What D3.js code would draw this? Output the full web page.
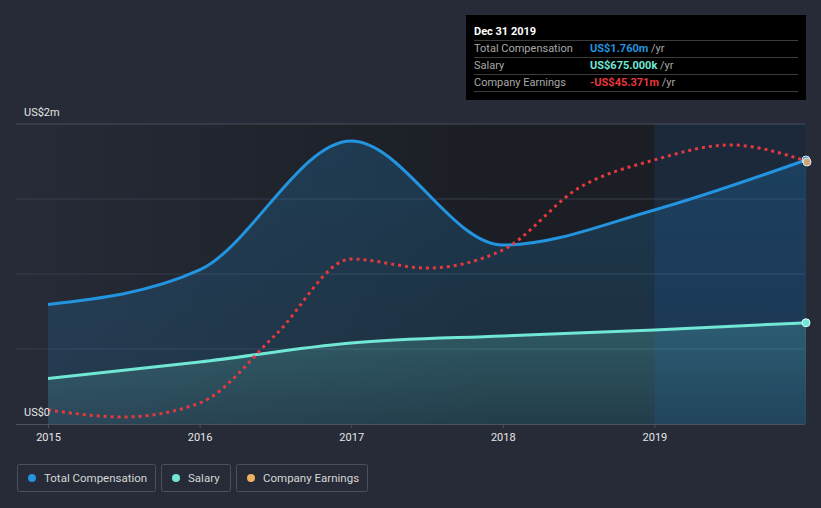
<!DOCTYPE html>
<html><head><meta charset="utf-8">
<script src="https://cdn.jsdelivr.net/npm/d3@7"></script>
<style>
html,body{margin:0;padding:0;background:#262b37;}
svg{display:block;font-family:Roboto,"Open Sans",sans-serif;}
</style></head><body>
<svg id="c" width="821" height="508"></svg>
<script>
// ---- data ----
const compYears = [2015.0, 2016.0, 2017.0, 2018.0, 2019.0, 2020.0];
const totalComp = [0.797, 1.027, 1.887, 1.193, 1.427, 1.760]; // US$m
const salary = [0.303, 0.413, 0.540, 0.587, 0.627, 0.675];    // US$m
const earnYears = [2015.0, 2015.5, 2016.0, 2016.5, 2017.0, 2017.5, 2018.0, 2018.5, 2019.0, 2019.5, 2020.0];
const earnings = [-229.6, -234.8, -224.5, -174.1, -117.9, -124.6, -111.2, -65.4, -44.6, -33.5, -45.371]; // US$m
const xTicks = [2015, 2016, 2017, 2018, 2019];
const yTickLabels = [{v:0, t:"US$0"}, {v:2, t:"US$2m"}];
const legendItems = [
  {name:"Total Compensation", color:"#2394df"},
  {name:"Salary", color:"#71e7d6"},
  {name:"Company Earnings", color:"#e9b35f"}
];
const tooltipTitle = "Dec 31 2019";
const tooltipRows = [
  {label:"Total Compensation", value:"US$1.760m", color:"#2394df"},
  {label:"Salary", value:"US$675.000k", color:"#71e7d6"},
  {label:"Company Earnings", value:"-US$45.371m", color:"#e8383d"}
];

// ---- layout ----
const svg = d3.select("#c");
const plotL = 16, plotR = 805, plotT = 124, plotB = 424;
const x = d3.scaleLinear().domain([2015, 2020]).range([48, 806]);
const y = d3.scaleLinear().domain([0, 2]).range([plotB, plotT]);
const yE = d3.scaleLinear().domain([-240, -18]).range([plotB, plotT]);

const defs = svg.append("defs");
const bgGrad = defs.append("linearGradient").attr("id","bgGrad").attr("x1","0").attr("x2","1").attr("y1","0").attr("y2","0");
bgGrad.append("stop").attr("offset","0").attr("stop-color","#262b37");
bgGrad.append("stop").attr("offset","0.6").attr("stop-color","#1b1e24");
bgGrad.append("stop").attr("offset","1").attr("stop-color","#1b1e24");
const tcGrad = defs.append("linearGradient").attr("id","tcGrad").attr("x1","0").attr("x2","0").attr("y1","0").attr("y2","1");
tcGrad.append("stop").attr("offset","0").attr("stop-color","#2394df").attr("stop-opacity",0.22);
tcGrad.append("stop").attr("offset","1").attr("stop-color","#2394df").attr("stop-opacity",0.14);
const salGrad = defs.append("linearGradient").attr("id","salGrad").attr("x1","0").attr("x2","0").attr("y1","0").attr("y2","1");
salGrad.append("stop").attr("offset","0").attr("stop-color","#71e7d6").attr("stop-opacity",0.22);
salGrad.append("stop").attr("offset","1").attr("stop-color","#71e7d6").attr("stop-opacity",0.08);

// plot background
svg.append("rect").attr("x",plotL).attr("y",plotT).attr("width",plotR-plotL).attr("height",plotB-plotT).attr("fill","url(#bgGrad)");

// gridlines
[0.5,1,1.5,2].forEach(v=>{
  svg.append("line").attr("x1",plotL).attr("x2",plotR).attr("y1",y(v)).attr("y2",y(v))
    .attr("stroke", v===2 ? "#4a4f5b" : "#373c48").attr("stroke-width",1);
});

const curve = d3.curveMonotoneX;
const tcData = compYears.map((d,i)=>({x:d,v:totalComp[i]}));
const salData = compYears.map((d,i)=>({x:d,v:salary[i]}));
const eData = earnYears.map((d,i)=>({x:d,v:earnings[i]}));

svg.append("path").datum(tcData)
  .attr("d", d3.area().curve(curve).x(d=>x(d.x)).y0(plotB).y1(d=>y(d.v)))
  .attr("fill","url(#tcGrad)");
svg.append("path").datum(salData)
  .attr("d", d3.area().curve(curve).x(d=>x(d.x)).y0(plotB).y1(d=>y(d.v)))
  .attr("fill","url(#salGrad)");

// highlight last year
svg.append("rect").attr("x",x(2019)).attr("y",plotT).attr("width",plotR-x(2019)).attr("height",plotB-plotT)
  .attr("fill","#1f6fd0").attr("fill-opacity",0.14);

// lines
svg.append("path").datum(salData)
  .attr("d", d3.line().curve(curve).x(d=>x(d.x)).y(d=>y(d.v)))
  .attr("fill","none").attr("stroke","#71e7d6").attr("stroke-width",3);
svg.append("path").datum(tcData)
  .attr("d", d3.line().curve(curve).x(d=>x(d.x)).y(d=>y(d.v)))
  .attr("fill","none").attr("stroke","#2394df").attr("stroke-width",3);
svg.append("path").datum(eData)
  .attr("d", d3.line().curve(curve).x(d=>x(d.x)).y(d=>yE(d.v)))
  .attr("fill","none").attr("stroke","#e8383d").attr("stroke-width",3)
  .attr("stroke-dasharray","3,4");

// end markers
const last = compYears.length-1;
svg.append("circle").attr("cx",x(compYears[last])).attr("cy",y(totalComp[last])).attr("r",4)
  .attr("fill","#2394df").attr("stroke","#e8e8e8").attr("stroke-width",1);
svg.append("circle").attr("cx",x(earnYears[earnYears.length-1])+1).attr("cy",yE(earnings[earnings.length-1])+1).attr("r",4)
  .attr("fill","#c8a57a").attr("stroke","#e8e8e8").attr("stroke-width",1);
svg.append("circle").attr("cx",x(compYears[last])).attr("cy",y(salary[last])).attr("r",4)
  .attr("fill","#71e7d6").attr("stroke","#dff").attr("stroke-width",1);

// x axis
svg.append("line").attr("x1",plotL).attr("x2",plotR).attr("y1",plotB+0.5).attr("y2",plotB+0.5).attr("stroke","#4c515c");
const xAxis = svg.append("g").attr("transform",`translate(0,${plotB})`)
  .call(d3.axisBottom(x).tickValues(xTicks).tickFormat(d3.format("d")).tickSize(4).tickPadding(5));
xAxis.select(".domain").remove();
xAxis.selectAll("line").attr("stroke","#4c515c");
xAxis.selectAll("text").attr("fill","#e6e6e6").attr("font-size","11px").attr("font-family","Roboto, sans-serif");

// y labels
yTickLabels.forEach(d=>{
  svg.append("text").attr("x",24).attr("y",y(d.v)-8).attr("fill","#e6e6e6").attr("font-size","11px").text(d.t);
});

// tooltip
const tt = svg.append("g");
tt.append("rect").attr("x",466).attr("y",15).attr("width",340).attr("height",85).attr("fill","#000");
tt.append("text").attr("x",474).attr("y",35).attr("fill","#fff").attr("font-size","11px").attr("font-weight","bold").text(tooltipTitle);
[40,57,74,91].forEach(yy=>tt.append("line").attr("x1",474).attr("x2",798).attr("y1",yy+0.5).attr("y2",yy+0.5).attr("stroke","#3c3c3c"));
tooltipRows.forEach((r,i)=>{
  const yy = 52 + i*17;
  tt.append("text").attr("x",474).attr("y",yy).attr("fill","#a8a8a8").attr("font-size","11px").text(r.label);
  const t = tt.append("text").attr("x",590).attr("y",yy).attr("font-size","11px");
  t.append("tspan").attr("fill",r.color).attr("font-weight","bold").text(r.value);
  t.append("tspan").attr("fill","#a8a8a8").text(" /yr");
});

// legend
const lg = svg.append("g");
let lx = 17;
const widths = [138, 69, 131];
legendItems.forEach((d,i)=>{
  const g = lg.append("g").attr("transform",`translate(${lx},464)`);
  g.append("rect").attr("x",0.5).attr("y",0.5).attr("width",widths[i]).attr("height",27).attr("rx",2)
    .attr("fill","none").attr("stroke","#4a505d");
  g.append("circle").attr("cx",15).attr("cy",14).attr("r",4).attr("fill",d.color);
  g.append("text").attr("x",27).attr("y",17.5).attr("fill","#d6d6d6").attr("font-size","11.5px").text(d.name);
  lx += widths[i] + 6;
});
</script>
</body></html>
